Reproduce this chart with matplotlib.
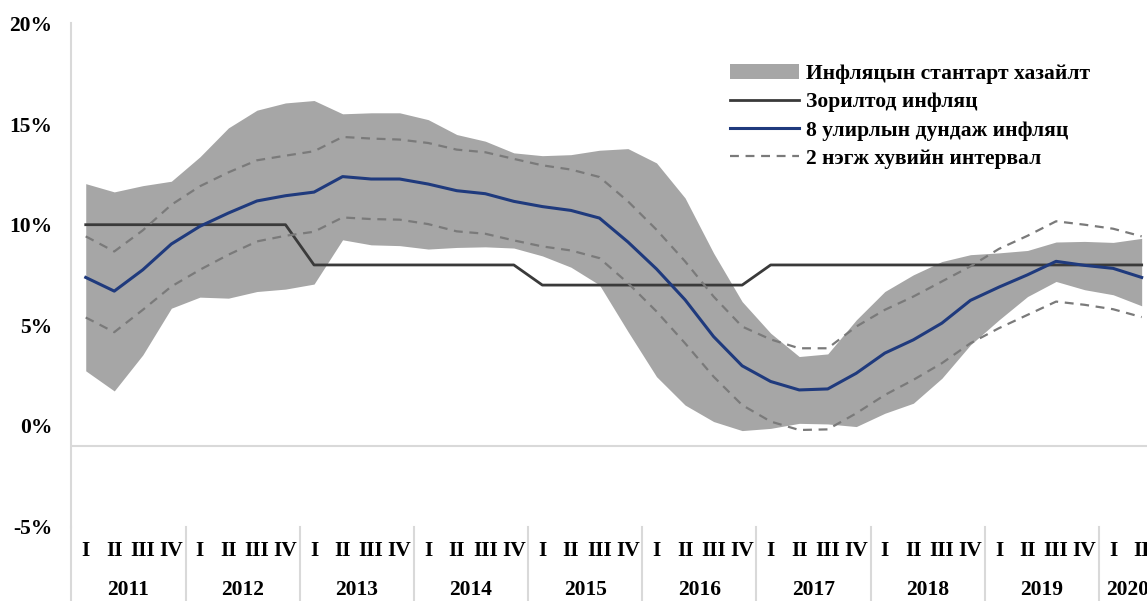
import matplotlib
matplotlib.use("Agg")
import matplotlib.pyplot as plt
import matplotlib.transforms as mtransforms
from matplotlib.patches import Patch
from matplotlib.lines import Line2D

plt.rcParams['font.family'] = ['Liberation Serif', 'DejaVu Serif']
plt.rcParams['font.weight'] = 'bold'

years = ['2011', '2012', '2013', '2014', '2015', '2016', '2017', '2018', '2019', '2020']
quarters = ['I', 'II', 'III', 'IV']

# 2011 Q1 .. 2020 Q2, percent
band_upper = [12.04, 11.63, 11.94, 12.16, 13.37, 14.81, 15.69, 16.05,
              16.17, 15.51, 15.56, 15.56, 15.22, 14.48, 14.15, 13.57,
              13.43, 13.48, 13.70, 13.78, 13.07, 11.33, 8.59, 6.18,
              4.61, 3.45, 3.58, 5.27, 6.68, 7.51, 8.17, 8.51,
              8.60, 8.72, 9.14, 9.17, 9.12, 9.32]
band_lower = [2.74, 1.74, 3.53, 5.85, 6.40, 6.35, 6.68, 6.80,
              7.05, 9.25, 9.00, 8.96, 8.79, 8.87, 8.90, 8.84,
              8.45, 7.89, 7.01, 4.69, 2.45, 1.04, 0.22, -0.23,
              -0.12, 0.13, 0.10, -0.03, 0.63, 1.13, 2.37, 4.03,
              5.27, 6.43, 7.18, 6.77, 6.52, 5.97]
target = [10] * 8 + [8] * 8 + [7] * 8 + [8] * 14
avg8 = [7.38, 6.70, 7.76, 9.04, 9.92, 10.58, 11.18, 11.44,
        11.62, 12.39, 12.27, 12.27, 12.02, 11.69, 11.54, 11.16,
        10.90, 10.71, 10.33, 9.14, 7.80, 6.27, 4.44, 2.99,
        2.21, 1.79, 1.84, 2.62, 3.62, 4.28, 5.11, 6.24,
        6.90, 7.51, 8.18, 7.98, 7.83, 7.38]
int_upper = [9.42, 8.67, 9.72, 10.99, 11.91, 12.60, 13.20, 13.43,
             13.65, 14.36, 14.28, 14.23, 14.06, 13.73, 13.60, 13.27,
             12.95, 12.74, 12.37, 11.16, 9.75, 8.18, 6.43, 4.94,
             4.30, 3.86, 3.86, 4.94, 5.77, 6.43, 7.18, 7.93,
             8.80, 9.45, 10.17, 10.00, 9.80, 9.42]
int_lower = [5.39, 4.66, 5.77, 6.93, 7.76, 8.51, 9.17, 9.45,
             9.65, 10.36, 10.28, 10.25, 10.03, 9.67, 9.55, 9.22,
             8.92, 8.72, 8.34, 7.10, 5.69, 4.11, 2.45, 1.04,
             0.22, -0.20, -0.17, 0.63, 1.54, 2.29, 3.12, 4.11,
             4.86, 5.52, 6.18, 6.02, 5.80, 5.41]

x = list(range(len(avg8)))

fig = plt.figure(figsize=(11.47, 6.01), dpi=100)
ax = fig.add_axes([0.0623, 0.1238, 0.9455, 0.8372])

band_col = '#a6a6a6'
grid_col = '#d9d9d9'
fs = 15.5

ax.fill_between(x, band_lower, band_upper, color=band_col, linewidth=0)
ax.plot(x, target, color='#3a3a3a', linewidth=2.0)
ax.plot(x, avg8, color='#1f3a7d', linewidth=2.2)
ax.plot(x, int_upper, color='#7a7a7a', linewidth=1.6, linestyle=(0, (4, 3)))
ax.plot(x, int_lower, color='#7a7a7a', linewidth=1.6, linestyle=(0, (4, 3)))

ax.axhline(-0.98, color=grid_col, linewidth=1.5)

ax.set_xlim(-0.5, len(x) - 0.5)
ax.set_ylim(-5, 20)
ax.set_yticks([-5, 0, 5, 10, 15, 20])
ax.set_yticklabels([f'{v}%' for v in [-5, 0, 5, 10, 15, 20]],
                   fontsize=fs, fontweight='bold')
ax.tick_params(axis='y', length=0, pad=14)
ax.set_xticks([])

for s in ['top', 'right', 'bottom']:
    ax.spines[s].set_visible(False)
ax.spines['left'].set_color(grid_col)
ax.spines['left'].set_linewidth(1.5)

# multi-level category axis
trans = mtransforms.blended_transform_factory(ax.transData, ax.transAxes)
for k, yr in enumerate(years):
    x0 = 4 * k - 0.5
    ax.plot([x0, x0], [0, -0.2], transform=trans, color=grid_col,
            linewidth=1.5, clip_on=False)
    nq = min(4, len(x) - 4 * k)
    for q in range(nq):
        ax.text(4 * k + q, -0.0485, quarters[q], transform=trans,
                ha='center', va='center', fontsize=fs, fontweight='bold')
    ax.text(4 * k + (nq - 1) / 2, -0.126, yr, transform=trans,
            ha='center', va='center', fontsize=fs, fontweight='bold')

handles = [Patch(facecolor=band_col, edgecolor='none'),
           Line2D([], [], color='#3a3a3a', linewidth=2.0),
           Line2D([], [], color='#1f3a7d', linewidth=2.2),
           Line2D([], [], color='#7a7a7a', linewidth=1.6, linestyle=(0, (4, 3)))]
labels = ['Инфляцын стантарт хазайлт', 'Зорилтод инфляц',
          '8 улирлын дундаж инфляц', '2 нэгж хувийн интервал']
fig.legend(handles, labels, loc='upper left',
           bbox_to_anchor=(730 / 1147, 1 - 64 / 601),
           frameon=False, borderpad=0, borderaxespad=0,
           handlelength=3.2, handleheight=0.7, handletextpad=0.35,
           labelspacing=0.38, prop={'size': fs, 'weight': 'bold'})

fig.savefig('out.png', dpi=100)
